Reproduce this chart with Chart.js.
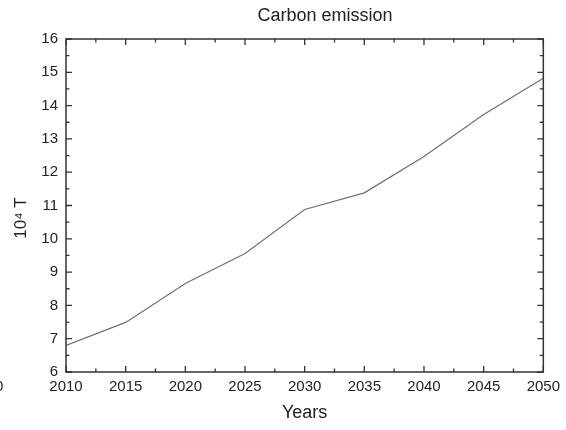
<!DOCTYPE html>
<html>
<head>
<meta charset="utf-8">
<script src="https://cdn.jsdelivr.net/npm/chart.js@4"></script>
<style>
  html, body { margin: 0; padding: 0; background: #fff; }
  #wrap { width: 566px; height: 430px; position: relative; }
</style>
</head>
<body>
<div id="wrap"><canvas id="c" width="566" height="430"></canvas></div>
<script>
// Projected carbon emission, 10^4 tonnes
const years = [2010, 2015, 2020, 2025, 2030, 2035, 2040, 2045, 2050];
const emission = [6.80, 7.49, 8.66, 9.56, 10.88, 11.38, 12.47, 13.73, 14.82];
const xTicks = [2010, 2015, 2020, 2025, 2030, 2035, 2040, 2045, 2050];
const yTicks = [6, 7, 8, 9, 10, 11, 12, 13, 14, 15, 16];

const FONT = '"Liberation Sans", Arial, sans-serif';
const INK = '#222';

// Closed frame with inward major/minor ticks on all four sides, plus titles
const framePlugin = {
  id: 'frame',
  afterDraw(chart) {
    const { ctx, chartArea: a, scales } = chart;
    const xs = scales.x, ys = scales.y;
    ctx.save();
    ctx.strokeStyle = '#333';
    ctx.lineWidth = 1.5;
    ctx.strokeRect(a.left, a.top, a.right - a.left, a.bottom - a.top);
    ctx.lineWidth = 1.3;
    const major = 6, minor = 3.5;
    ctx.beginPath();
    for (let i = 0; i < xTicks.length; i++) {
      const px = xs.getPixelForValue(xTicks[i]);
      ctx.moveTo(px, a.bottom); ctx.lineTo(px, a.bottom - major);
      ctx.moveTo(px, a.top); ctx.lineTo(px, a.top + major);
      if (i < xTicks.length - 1) {
        const m = xs.getPixelForValue((xTicks[i] + xTicks[i + 1]) / 2);
        ctx.moveTo(m, a.bottom); ctx.lineTo(m, a.bottom - minor);
        ctx.moveTo(m, a.top); ctx.lineTo(m, a.top + minor);
      }
    }
    for (let i = 0; i < yTicks.length; i++) {
      const py = ys.getPixelForValue(yTicks[i]);
      ctx.moveTo(a.left, py); ctx.lineTo(a.left + major, py);
      ctx.moveTo(a.right, py); ctx.lineTo(a.right - major, py);
      if (i < yTicks.length - 1) {
        const m = ys.getPixelForValue((yTicks[i] + yTicks[i + 1]) / 2);
        ctx.moveTo(a.left, m); ctx.lineTo(a.left + minor, m);
        ctx.moveTo(a.right, m); ctx.lineTo(a.right - minor, m);
      }
    }
    ctx.stroke();

    ctx.fillStyle = INK;
    ctx.textBaseline = 'middle';

    // Chart title
    ctx.font = '18px ' + FONT;
    ctx.textAlign = 'center';
    ctx.fillText('Carbon emission', 325, 16);

    // Y axis title
    ctx.save();
    ctx.translate(21, 218);
    ctx.rotate(-Math.PI / 2);
    ctx.font = '17px ' + FONT;
    ctx.fillText('10⁴ T', 0, 0);
    ctx.restore();

    // Edge of the neighbouring panel's axis label
    ctx.font = '15px ' + FONT;
    ctx.textAlign = 'left';
    ctx.fillText('0', -5, 387);
    ctx.restore();
  }
};

new Chart(document.getElementById('c'), {
  type: 'line',
  data: {
    datasets: [{
      data: years.map((y, i) => ({ x: y, y: emission[i] })),
      borderColor: '#707070',
      borderWidth: 1.2,
      pointRadius: 0,
      tension: 0,
      fill: false
    }]
  },
  options: {
    responsive: false,
    animation: false,
    events: [],
    layout: { padding: { left: 0, right: 20, top: 39, bottom: 0 } },
    plugins: { legend: { display: false }, tooltip: { enabled: false }, title: { display: false } },
    scales: {
      x: {
        type: 'linear',
        min: 2010, max: 2050,
        afterFit(s) { s.height = 58; },
        afterBuildTicks(s) { s.ticks = xTicks.map(v => ({ value: v })); },
        grid: { display: false, drawTicks: false },
        border: { display: false },
        ticks: {
          color: INK, padding: 6, maxRotation: 0,
          font: { size: 15, family: FONT },
          callback: v => String(v)
        },
        title: {
          display: true, text: 'Years', color: INK,
          font: { size: 18, family: FONT },
          padding: { top: 0, bottom: 6 }
        }
      },
      y: {
        min: 6, max: 16,
        afterFit(s) { s.width = 66; },
        afterBuildTicks(s) { s.ticks = yTicks.map(v => ({ value: v })); },
        grid: { display: false, drawTicks: false },
        border: { display: false },
        ticks: {
          color: INK, padding: 8,
          font: { size: 15, family: FONT },
          callback: v => String(v)
        }
      }
    }
  },
  plugins: [framePlugin]
});
</script>
</body>
</html>
